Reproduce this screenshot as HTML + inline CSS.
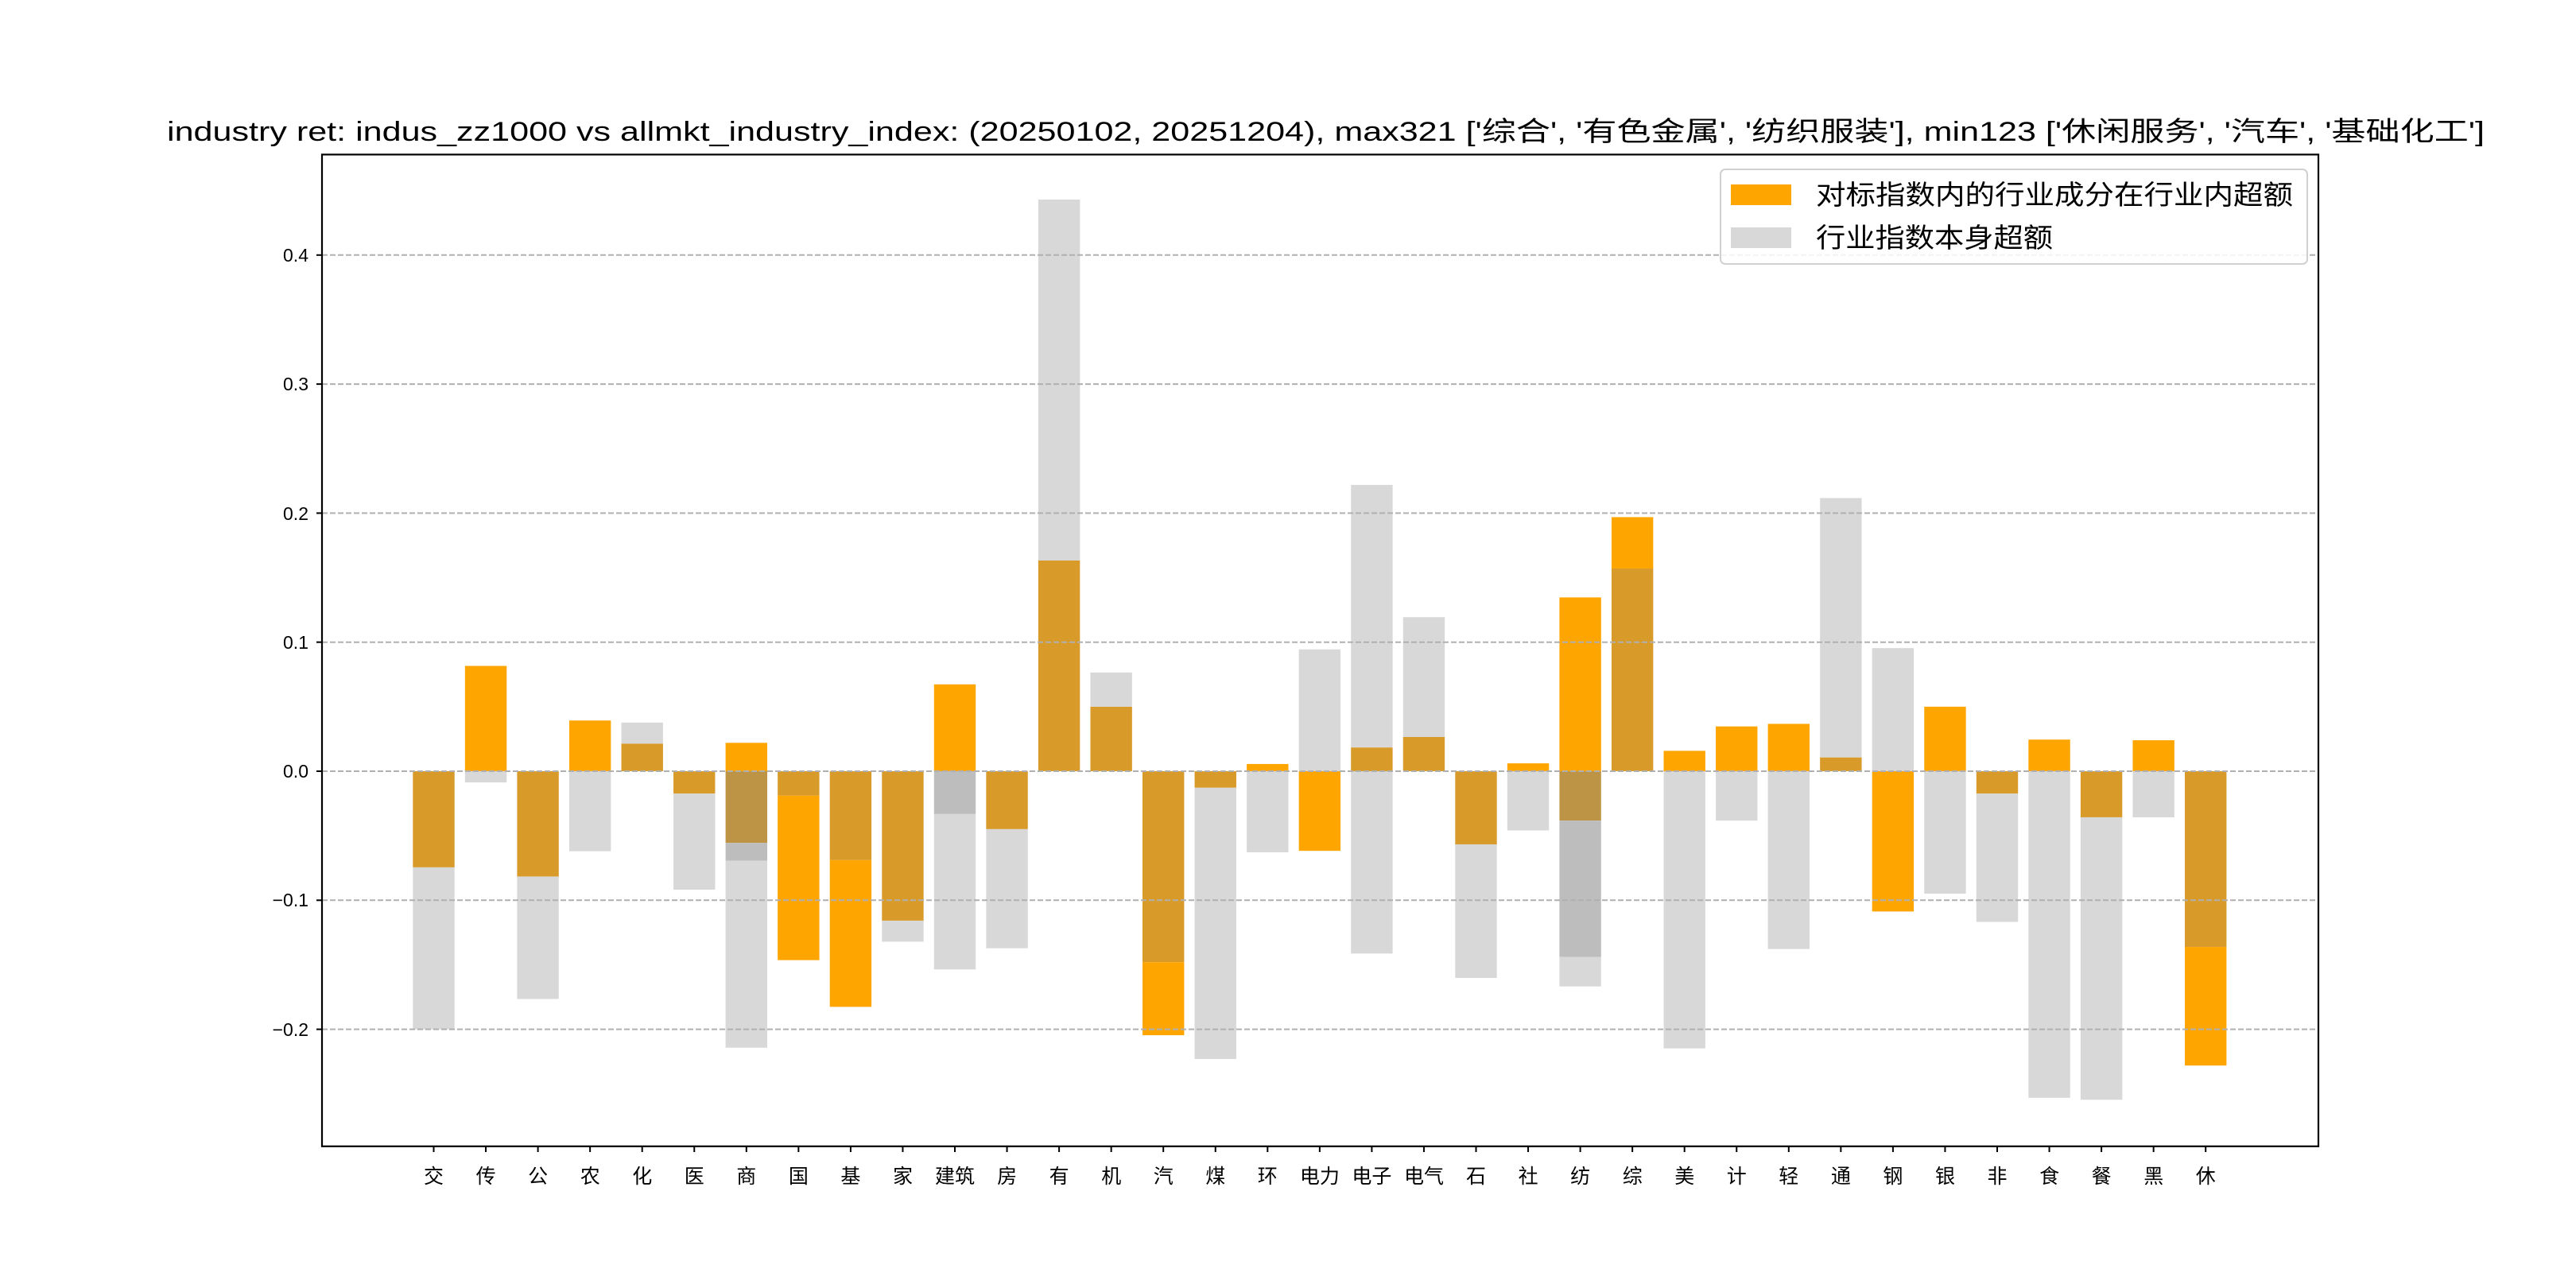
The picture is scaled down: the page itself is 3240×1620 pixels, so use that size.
<!DOCTYPE html>
<html><head><meta charset="utf-8"><style>
html,body{margin:0;padding:0;background:#fff;}
svg{display:block;}
text{font-family:"Liberation Sans","WenQuanYi Zen Hei","Noto Sans CJK SC",sans-serif;}
</style></head><body>
<svg id="s" width="3240" height="1620" viewBox="0 0 3240 1620" xmlns="http://www.w3.org/2000/svg">
<rect width="3240" height="1620" fill="#fff"/>
<g id="bars"></g>
<g id="grid" stroke="#b0b0b0" stroke-width="2" stroke-dasharray="7,3"></g>
<rect x="405" y="194.4" width="2511" height="1247.4" fill="none" stroke="#000" stroke-width="2.2"/>
<g id="ticks" stroke="#000" stroke-width="2"></g>
<g font-size="23" text-anchor="end" fill="#000">
<text x="388" y="329">0.4</text>
<text x="388" y="491">0.3</text>
<text x="388" y="654">0.2</text>
<text x="388" y="816">0.1</text>
<text x="388" y="978">0.0</text>
<text x="388" y="1140">−0.1</text>
<text x="388" y="1303">−0.2</text>
</g>
<g font-size="25" text-anchor="middle" fill="#000">
<text x="545.5" y="1488">交</text><text x="611.1" y="1488">传</text><text x="676.6" y="1488">公</text><text x="742.2" y="1488">农</text><text x="807.7" y="1488">化</text><text x="873.3" y="1488">医</text><text x="938.8" y="1488">商</text><text x="1004.4" y="1488">国</text><text x="1069.9" y="1488">基</text><text x="1135.5" y="1488">家</text><text x="1201.0" y="1488">建筑</text><text x="1266.6" y="1488">房</text><text x="1332.1" y="1488">有</text><text x="1397.7" y="1488">机</text><text x="1463.2" y="1488">汽</text><text x="1528.8" y="1488">煤</text><text x="1594.3" y="1488">环</text><text x="1659.9" y="1488">电力</text><text x="1725.4" y="1488">电子</text><text x="1791.0" y="1488">电气</text><text x="1856.5" y="1488">石</text><text x="1922.1" y="1488">社</text><text x="1987.6" y="1488">纺</text><text x="2053.2" y="1488">综</text><text x="2118.7" y="1488">美</text><text x="2184.3" y="1488">计</text><text x="2249.8" y="1488">轻</text><text x="2315.4" y="1488">通</text><text x="2380.9" y="1488">钢</text><text x="2446.5" y="1488">银</text><text x="2512.0" y="1488">非</text><text x="2577.6" y="1488">食</text><text x="2643.1" y="1488">餐</text><text x="2708.7" y="1488">黑</text><text x="2774.2" y="1488">休</text>
</g>
<text x="210" y="177" font-size="34" textLength="2915" lengthAdjust="spacingAndGlyphs" fill="#000">industry ret: indus_zz1000 vs allmkt_industry_index: (20250102, 20251204), max321 ['综合', '有色金属', '纺织服装'], min123 ['休闲服务', '汽车', '基础化工']</text>
<rect x="2164" y="213" width="738" height="119" rx="6" fill="#fff" fill-opacity="0.85" stroke="#d0d0d0" stroke-width="2"/>
<rect x="2177" y="232" width="76" height="26" fill="#FFA500"/>
<rect x="2177" y="286" width="76" height="26" fill="#D8D8D8"/>
<text x="2284" y="257" font-size="34" textLength="600" lengthAdjust="spacingAndGlyphs" fill="#000">对标指数内的行业成分在行业内超额</text>
<text x="2284" y="311" font-size="34" textLength="298" lengthAdjust="spacingAndGlyphs" fill="#000">行业指数本身超额</text>
</svg>
<script>
var C={O:"#FFA500",D:"#D89A29",G:"#D8D8D8",B:"#BDBDBD",M:"#BD9345"};
var data=[
[["D",0,-0.0745],["G",-0.0745,-0.2]],
[["O",0,0.0816],["G",0,-0.0087]],
[["D",0,-0.0816],["G",-0.0816,-0.1765]],
[["O",0,0.0393],["G",0,-0.062]],
[["D",0,0.0214],["G",0.0214,0.0377]],
[["D",0,-0.0173],["G",-0.0173,-0.0918]],
[["O",0,0.022],["M",0,-0.0556],["B",-0.0556,-0.0694],["G",-0.0694,-0.2143]],
[["D",0,-0.0189],["O",-0.0189,-0.1464]],
[["D",0,-0.0689],["O",-0.0689,-0.1826]],
[["D",0,-0.1158],["G",-0.1158,-0.1321]],
[["O",0,0.0673],["B",0,-0.0332],["G",-0.0332,-0.1536]],
[["D",0,-0.0449],["G",-0.0449,-0.1372]],
[["D",0,0.1633],["G",0.1633,0.443]],
[["D",0,0.05],["G",0.05,0.0765]],
[["D",0,-0.148],["O",-0.148,-0.2046]],
[["D",0,-0.0128],["G",-0.0128,-0.223]],
[["O",0,0.0056],["G",0,-0.0628]],
[["G",0,0.0944],["O",0,-0.0617]],
[["D",0,0.0184],["G",0.0184,0.2219],["G",0,-0.1413]],
[["D",0,0.0265],["G",0.0265,0.1194]],
[["D",0,-0.0567],["G",-0.0567,-0.1602]],
[["O",0,0.0061],["G",0,-0.0459]],
[["O",0,0.1347],["M",0,-0.0383],["B",-0.0383,-0.1439],["G",-0.1439,-0.1668]],
[["D",0,0.1571],["O",0.1571,0.1969]],
[["O",0,0.0158],["G",0,-0.2148]],
[["O",0,0.0347],["G",0,-0.0383]],
[["O",0,0.0367],["G",0,-0.1378]],
[["D",0,0.0107],["G",0.0107,0.2117]],
[["G",0,0.0954],["O",0,-0.1087]],
[["O",0,0.05],["G",0,-0.0949]],
[["D",0,-0.0173],["G",-0.0173,-0.1168]],
[["O",0,0.0245],["G",0,-0.2531]],
[["D",0,-0.0357],["G",-0.0357,-0.2546]],
[["O",0,0.024],["G",0,-0.0357]],
[["D",0,-0.1362],["O",-0.1362,-0.2281]]
];
var NS="http://www.w3.org/2000/svg";
function y(v){return 970-1623*v;}
var bars=document.getElementById("bars"),grid=document.getElementById("grid"),ticks=document.getElementById("ticks");
data.forEach(function(segs,i){
 var cx=545.5+65.55*i,w=52.4;
 segs.forEach(function(s){
  var r=document.createElementNS(NS,"rect");
  var a=y(s[1]),b=y(s[2]);
  r.setAttribute("x",cx-w/2);r.setAttribute("width",w);
  r.setAttribute("y",Math.min(a,b));r.setAttribute("height",Math.abs(a-b));
  r.setAttribute("fill",C[s[0]]);bars.appendChild(r);
 });
 var t=document.createElementNS(NS,"line");
 t.setAttribute("x1",cx);t.setAttribute("x2",cx);t.setAttribute("y1",1441.8);t.setAttribute("y2",1449);
 ticks.appendChild(t);
});
[0.4,0.3,0.2,0.1,0,-0.1,-0.2].forEach(function(v){
 var l=document.createElementNS(NS,"line");
 l.setAttribute("x1",405);l.setAttribute("x2",2916);l.setAttribute("y1",y(v));l.setAttribute("y2",y(v));
 grid.appendChild(l);
 var t=document.createElementNS(NS,"line");
 t.setAttribute("x1",398);t.setAttribute("x2",405);t.setAttribute("y1",y(v));t.setAttribute("y2",y(v));
 ticks.appendChild(t);
});
</script>
</body></html>
